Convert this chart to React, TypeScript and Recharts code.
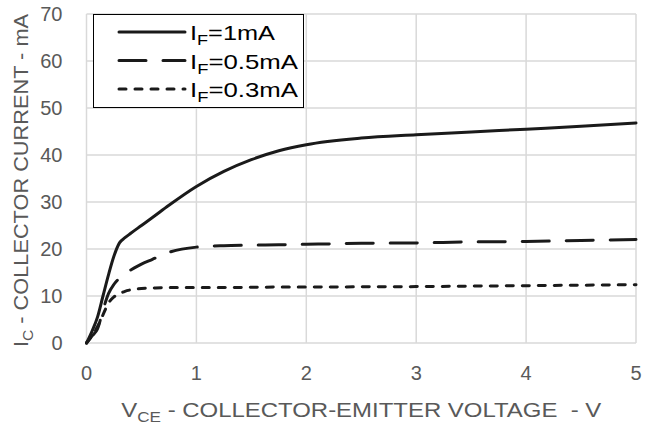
import { LineChart, Line, XAxis, YAxis, CartesianGrid, Legend, Label } from 'recharts';

const vce = [0, 0.05, 0.1, 0.15, 0.2, 0.25, 0.3, 0.35, 0.4, 0.5, 0.6, 0.75, 1, 1.25, 1.5, 1.75, 2, 2.5, 3, 3.5, 4, 4.5, 5];
const if1mA = [0, 2.5, 5.5, 10, 14.5, 18.5, 21.3, 22.4, 23.3, 25, 26.7, 29.3, 33.3, 36.5, 39, 40.9, 42.2, 43.6, 44.3, 44.9, 45.5, 46.1, 46.8];
const if05mA = [0, 1.5, 3, 7, 10.5, 12.5, 13.8, 14.8, 15.5, 16.8, 17.8, 19.3, 20.4, 20.7, 20.8, 20.9, 21, 21.2, 21.3, 21.5, 21.6, 21.8, 22];
const if03mA = [0, 1.5, 3.5, 6, 8.5, 9.8, 10.5, 11, 11.3, 11.6, 11.7, 11.8, 11.8, 11.8, 11.85, 11.9, 11.9, 11.95, 12, 12.1, 12.2, 12.3, 12.4];

const xTicks = [0, 1, 2, 3, 4, 5];
const yTicks = [0, 10, 20, 30, 40, 50, 60, 70];

const series = [
  { key: 'a', label: '=1mA', dash: undefined as string | undefined, len: 85 },
  { key: 'b', label: '=0.5mA', dash: '27 17', len: 108 },
  { key: 'c', label: '=0.3mA', dash: '7 9', len: 108 },
];

const data = vce.map((v, i) => ({ vce: v, a: if1mA[i], b: if05mA[i], c: if03mA[i] }));

const FONT = '"Liberation Sans", Arial, sans-serif';
const LINE = '#1a1a1a';
const TEXT = '#595959';

function LegendBox() {
  return (
    <div style={{ width: 211, height: 94, border: '1.5px solid #000', background: '#fff', boxSizing: 'border-box' }}>
      <svg width={208} height={91} style={{ display: 'block' }}>
        {series.map((s, i) => {
          const y = 17 + i * 28.5;
          return (
            <g key={s.key}>
              <line x1={25} x2={91} y1={y} y2={y} stroke={LINE} strokeWidth={3} strokeDasharray={s.dash} strokeLinecap="round" />
              <text x={96} y={y + 8} fontSize={21} fontFamily={FONT} fill="#000" textLength={s.len} lengthAdjust="spacingAndGlyphs">
                I<tspan fontSize={15} dy={5}>F</tspan><tspan dy={-5}>{s.label}</tspan>
              </text>
            </g>
          );
        })}
      </svg>
    </div>
  );
}

function XTitle({ viewBox }: any) {
  const cx = viewBox.x + viewBox.width / 2;
  return (
    <text x={cx} y={417} textAnchor="middle" fontSize={21} fontFamily={FONT} fill={TEXT} textLength={480} lengthAdjust="spacingAndGlyphs">
      V<tspan fontSize={15} dy={5}>CE</tspan><tspan dy={-5}>{' - COLLECTOR-EMITTER VOLTAGE\u00a0 - V'}</tspan>
    </text>
  );
}

function YTitle({ viewBox }: any) {
  const cx = 28;
  const cy = viewBox.y + viewBox.height / 2 + 2;
  return (
    <text x={cx} y={cy} transform={`rotate(-90 ${cx} ${cy})`} textAnchor="middle" fontSize={21} fontFamily={FONT} fill={TEXT} textLength={333} lengthAdjust="spacingAndGlyphs">
      I<tspan fontSize={15} dy={5}>C</tspan><tspan dy={-5}>{' - COLLECTOR CURRENT - mA'}</tspan>
    </text>
  );
}

export default function App() {
  return (
    <div style={{ position: 'absolute', left: 0, top: 0, width: 653, height: 427, background: '#fff', fontFamily: FONT }}>
      <LineChart width={653} height={427} data={data} margin={{ top: 14, right: 17, left: 0, bottom: 0 }}>
        <CartesianGrid stroke="#d9d9d9" strokeWidth={1.5} />
        <XAxis
          dataKey="vce"
          type="number"
          domain={[0, 5]}
          ticks={xTicks}
          height={84}
          tickLine={false}
          axisLine={false}
          tickSize={0}
          tickMargin={23}
          tick={{ fontSize: 20, fill: TEXT, fontFamily: FONT }}
        >
          <Label content={<XTitle />} />
        </XAxis>
        <YAxis
          type="number"
          domain={[0, 70]}
          ticks={yTicks}
          width={86.5}
          tickLine={false}
          axisLine={false}
          tickSize={0}
          tickMargin={24}
          tick={{ fontSize: 20, fill: TEXT, fontFamily: FONT }}
        >
          <Label content={<YTitle />} />
        </YAxis>
        <Legend
          layout="vertical"
          align="center"
          verticalAlign="middle"
          wrapperStyle={{ left: 93, top: 14, width: 211 }}
          content={<LegendBox />}
        />
        {series.map((s) => (
          <Line
            key={s.key}
            dataKey={s.key}
            type="monotone"
            stroke={LINE}
            strokeWidth={3}
            strokeDasharray={s.dash}
            strokeLinecap="round"
            dot={false}
            activeDot={false}
            isAnimationActive={false}
          />
        ))}
      </LineChart>
    </div>
  );
}
